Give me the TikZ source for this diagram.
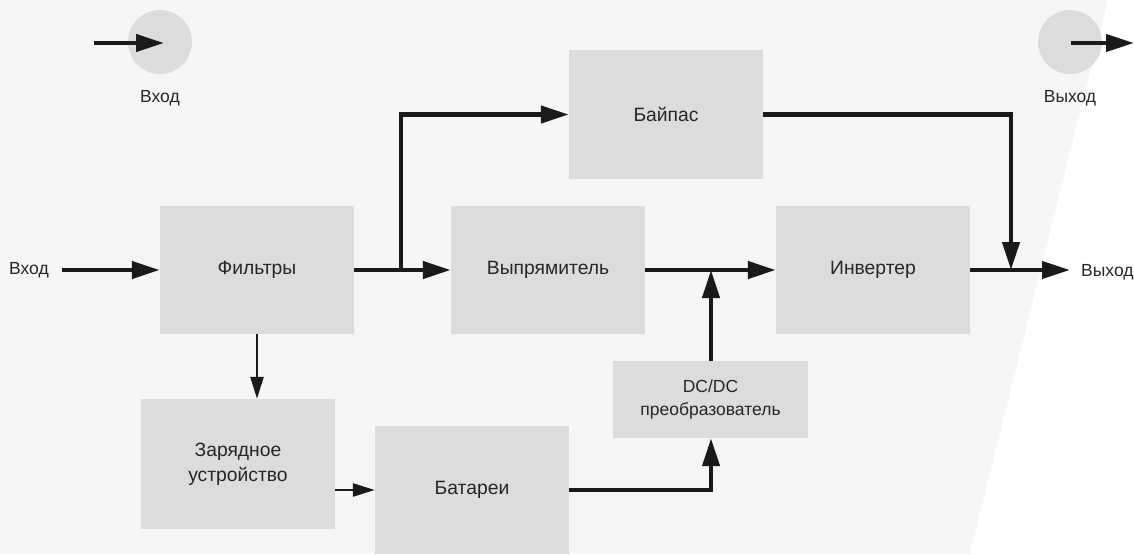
\documentclass[tikz,border=0pt]{standalone}
\usepackage{fontspec}
\setmainfont{Liberation Sans}
\usetikzlibrary{arrows.meta}
\definecolor{bggray}{HTML}{F6F6F6}
\definecolor{boxgray}{HTML}{DCDCDC}
\definecolor{linec}{HTML}{1A1A1A}
\tikzset{
  blk/.style={rectangle, fill=boxgray, inner sep=0pt, minimum width=194pt, minimum height=128pt, align=center, font=\fontsize{19.3}{25}\selectfont, text=black!85},
  lbl/.style={inner sep=0pt, font=\fontsize{17.5}{20}\selectfont, text=black!85},
  thick arrow/.style={draw=linec, line width=4.3pt, -{Triangle[length=28pt,width=17pt]}},
  thin arrow/.style={draw=linec, line width=2.6pt, -{Triangle[length=22pt,width=13pt]}},
}
\begin{document}
\begin{tikzpicture}[x=1pt,y=-1pt]
\useasboundingbox (0,0) rectangle (1134,554);
\fill[white] (0,0) rectangle (1134,554);
\fill[bggray] (0,0) -- (1108,0) -- (970,554) -- (0,554) -- cycle;

% top legend circles
\fill[boxgray] (160,42) circle (32);
\node[lbl] (inlegend) at (160,98) {Вход};
\coordinate (inA) at (94,43);
\coordinate (inB) at (164,43);
\draw[thick arrow] (inA) -- (inB);

\fill[boxgray] (1070,42) circle (32);
\node[lbl] (outlegend) at (1070,98) {Выход};
\coordinate (outA) at (1071,43);
\coordinate (outB) at (1134,43);
\draw[thick arrow] (outA) -- (outB);

% blocks
\node[blk] (filt) at (257,270) {Фильтры};
\node[blk] (rect) at (548,270) {Выпрямитель};
\node[blk] (inv) at (873,270) {Инвертер};
\node[blk, minimum height=129pt] (byp) at (666,114.5) {Байпас};
\node[blk, minimum height=130pt] (chg) at (238,464) {Зарядное\\устройство};
\node[blk] (bat) at (472,490) {Батареи};
\node[blk, minimum width=195pt, minimum height=77pt, font=\fontsize{17.5}{23}\selectfont] (dcdc) at (710.5,399.5) {DC/DC\\преобразователь};

% input / output labels
\node[lbl, anchor=west] (inlbl) at (9,270) {Вход};
\node[lbl, anchor=west] (outlbl) at (1081,272) {Выход};
\coordinate (inS) at (62,270);
\coordinate (outE) at (1070,270);

% junctions
\coordinate (j1) at (401,270);
\coordinate (j2) at (1011,270);
\coordinate (j3) at (711,270);

% connectors
\draw[thick arrow] (inS) -- (filt.west);
\draw[thick arrow] (filt.east) -- (rect.west);
\draw[thick arrow] (j1) |- (byp.west);
\draw[thick arrow] (byp.east) -| (j2);
\draw[thick arrow] (rect.east) -- (inv.west);
\draw[thick arrow] (inv.east) -- (outE);
\draw[thick arrow] (j3 |- dcdc.north) -- (j3);
\draw[thick arrow] (bat.east) -| (j3 |- dcdc.south);
\draw[thin arrow] (filt.south) -- (filt.south |- chg.north);
\draw[thin arrow] (bat.west -| chg.east) -- (bat.west);
\end{tikzpicture}
\end{document}
